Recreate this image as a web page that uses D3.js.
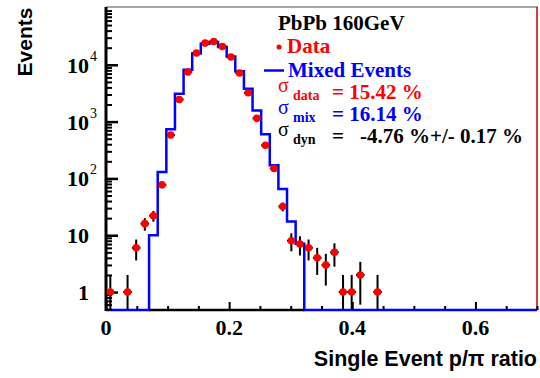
<!DOCTYPE html>
<html>
<head>
<meta charset="utf-8">
<script src="https://cdnjs.cloudflare.com/ajax/libs/d3/7.8.5/d3.min.js"></script>
<style>
  body { margin: 0; background: #fff; }
  svg { display: block; }
</style>
</head>
<body>
<svg id="chart" width="540" height="378"></svg>
<script>
// data points (bin centres, counts, errors)
var dataX = [0.007, 0.035, 0.049, 0.063, 0.077, 0.091, 0.105, 0.119, 0.133, 0.147,
             0.161, 0.175, 0.189, 0.203, 0.217, 0.231, 0.245, 0.259, 0.273, 0.287,
             0.301, 0.315, 0.329, 0.343, 0.357, 0.371, 0.385, 0.399, 0.413, 0.441];
var dataY = [1, 1, 6, 16, 22, 77, 580, 2450, 7480, 16100,
             24100, 25700, 21000, 13700, 7180, 3210, 1140, 383, 150, 32,
             8, 7, 6, 4, 3, 5, 1, 1, 2, 1];
var dataErr = [1, 1, 2.4, 4, 4.7, 8.8, 24, 49, 86, 127,
               155, 160, 145, 117, 85, 57, 34, 20, 12, 5.7,
               2.8, 2.6, 2.4, 2, 1.7, 2.2, 1, 1, 1.4, 1];
var binWidth = 0.014;

// mixed events histogram: bin low edges and contents
var mixLow = [0.070, 0.084, 0.098, 0.112, 0.126, 0.140, 0.154, 0.168, 0.182, 0.196,
              0.210, 0.224, 0.238, 0.252, 0.266, 0.280, 0.294, 0.308];
var mixY = [10, 130, 730, 3080, 8200, 15800, 23400, 25100, 20500, 14000,
            7660, 3770, 1570, 597, 171, 65, 17.4, 7.1];

var xTicks = [0, 0.2, 0.4, 0.6];
var xTickLabels = ["0", "0.2", "0.4", "0.6"];
var yTicks = [1, 10, 100, 1000, 10000];
var yTickBase = ["1", "10", "10", "10", "10"];
var yTickExp = ["", "", "2", "3", "4"];

var L = 106, R = 537, T = 7, B = 310;
var svg = d3.select("#chart");
var x = d3.scaleLinear().domain([0, 0.7]).range([L, R]);
var y = d3.scaleLog().domain([0.483, 1.04e5]).range([B, T]);
var yc = function(v) { return v <= y.domain()[0] ? B : y(v); };

var serif = "'Liberation Serif', 'Times New Roman', serif";
var sans = "'Liberation Sans', Arial, sans-serif";

// frame: top grey, right red
svg.append("line").attr("x1", L).attr("x2", R + 1).attr("y1", T).attr("y2", T)
  .attr("stroke", "#888").attr("stroke-width", 1.5);
svg.append("line").attr("x1", R).attr("x2", R).attr("y1", T).attr("y2", B)
  .attr("stroke", "#c00000").attr("stroke-width", 1.5);

// mixed histogram as step line
var pts = [[x(0), B]];
pts.push([x(mixLow[0]), B]);
mixLow.forEach(function(lo, i) {
  pts.push([x(lo), y(mixY[i])]);
  pts.push([x(lo + binWidth), y(mixY[i])]);
});
pts.push([x(mixLow[mixLow.length - 1] + binWidth), B]);
pts.push([x(0.7), B]);
svg.append("path").attr("d", d3.line()(pts))
  .attr("fill", "none").attr("stroke", "#0000ff").attr("stroke-width", 2.5);

// axes
var minorY = [];
[0.1, 1, 10, 100, 1000, 10000].forEach(function(d) {
  for (var k = 2; k <= 9; k++) {
    var v = d * k;
    if (v >= y.domain()[0] && v <= y.domain()[1]) minorY.push(v);
  }
});
svg.append("g").attr("transform", "translate(" + L + ",0)")
  .call(d3.axisRight(y).tickValues(minorY).tickSize(6).tickFormat(""))
  .call(function(g) { g.select(".domain").remove(); g.selectAll("line").attr("stroke-width", 2); });
svg.append("g").attr("transform", "translate(" + L + ",0)")
  .call(d3.axisRight(y).tickValues(yTicks).tickSize(12).tickFormat(""))
  .call(function(g) { g.select(".domain").remove(); g.selectAll("line").attr("stroke-width", 2.5); });

var minorX = d3.range(0, 0.701, 0.05).filter(function(v) { return Math.abs(v / 0.2 - Math.round(v / 0.2)) > 1e-6; });
svg.append("g").attr("transform", "translate(0," + B + ")")
  .call(d3.axisTop(x).tickValues(minorX).tickSize(4).tickFormat(""))
  .call(function(g) { g.select(".domain").remove(); g.selectAll("line").attr("stroke-width", 2); });
svg.append("g").attr("transform", "translate(0," + B + ")")
  .call(d3.axisTop(x).tickValues(xTicks).tickSize(8).tickFormat(""))
  .call(function(g) { g.select(".domain").remove(); g.selectAll("line").attr("stroke-width", 2); });

// axis lines
svg.append("line").attr("x1", L).attr("x2", L).attr("y1", T).attr("y2", B + 1)
  .attr("stroke", "#000").attr("stroke-width", 3);
svg.append("line").attr("x1", x(mixLow[0])).attr("x2", x(mixLow[mixLow.length - 1] + binWidth))
  .attr("y1", B).attr("y2", B).attr("stroke", "#000").attr("stroke-width", 2.5);

// tick labels
svg.selectAll(".xl").data(xTicks).enter().append("text")
  .attr("x", function(d) { return x(d); }).attr("y", 335)
  .attr("text-anchor", "middle").attr("font-family", serif).attr("font-weight", "bold")
  .attr("font-size", 22).text(function(d, i) { return xTickLabels[i]; });

yTicks.forEach(function(d, i) {
  svg.append("text").attr("x", 89).attr("y", y(d) + 8)
    .attr("text-anchor", "end").attr("font-family", serif).attr("font-weight", "bold")
    .attr("font-size", 22).text(yTickBase[i]);
  if (yTickExp[i]) {
    svg.append("text").attr("x", 90).attr("y", y(d) - 4)
      .attr("font-family", serif).attr("font-size", 14).text(yTickExp[i]);
  }
});

// data error bars and markers
var g = svg.append("g");
dataX.forEach(function(d, i) {
  g.append("line").attr("x1", x(d)).attr("x2", x(d))
    .attr("y1", yc(dataY[i] - dataErr[i])).attr("y2", yc(dataY[i] + dataErr[i]))
    .attr("stroke", "#000").attr("stroke-width", 2);
  g.append("line").attr("x1", x(d - binWidth / 2)).attr("x2", x(d + binWidth / 2))
    .attr("y1", y(dataY[i])).attr("y2", y(dataY[i]))
    .attr("stroke", "#000").attr("stroke-width", 2);
});
g.selectAll("circle").data(dataX).enter().append("circle")
  .attr("cx", function(d) { return x(d); })
  .attr("cy", function(d, i) { return y(dataY[i]); })
  .attr("r", 3.8).attr("fill", "#ff0000");

// axis titles
svg.append("text").attr("transform", "translate(32,42) rotate(-90)")
  .attr("text-anchor", "middle").attr("font-family", sans).attr("font-weight", "bold")
  .attr("font-size", 21).text("Events");
svg.append("text").attr("x", 537).attr("y", 366).attr("text-anchor", "end")
  .attr("font-family", sans).attr("font-weight", "bold").attr("font-size", 21.5)
  .text("Single Event p/\u03c0 ratio");

// legend
var leg = svg.append("g").attr("font-family", serif).attr("font-weight", "bold").attr("font-size", 21);
leg.append("text").attr("x", 278).attr("y", 30).attr("fill", "#000").text("PbPb 160GeV");
leg.append("circle").attr("cx", 279).attr("cy", 47).attr("r", 2.5).attr("fill", "#ff0000");
leg.append("text").attr("x", 287).attr("y", 53).attr("fill", "#ff0000").text("Data");
leg.append("line").attr("x1", 264).attr("x2", 284).attr("y1", 70.5).attr("y2", 70.5)
  .attr("stroke", "#0000ff").attr("stroke-width", 2.5);
leg.append("text").attr("x", 288).attr("y", 77).attr("fill", "#0000ff").text("Mixed Events");

var sig = [
  { sub: "data", val: "= 15.42 %", col: "#ff0000", yb: 99 },
  { sub: "mix", val: "= 16.14 %", col: "#0000ff", yb: 121 },
  { sub: "dyn", val: "=", col: "#000", yb: 143 }
];
sig.forEach(function(s) {
  leg.append("text").attr("x", 278).attr("y", s.yb - 7).attr("fill", s.col)
    .attr("font-weight", "normal").attr("font-size", 20).text("\u03c3");
  leg.append("text").attr("x", 293).attr("y", s.yb + 1).attr("fill", s.col)
    .attr("font-size", 14).text(s.sub);
  leg.append("text").attr("x", 332).attr("y", s.yb).attr("fill", s.col).text(s.val);
});
leg.append("text").attr("x", 360).attr("y", 143).attr("fill", "#000").text("-4.76 %+/- 0.17 %");
</script>
</body>
</html>
